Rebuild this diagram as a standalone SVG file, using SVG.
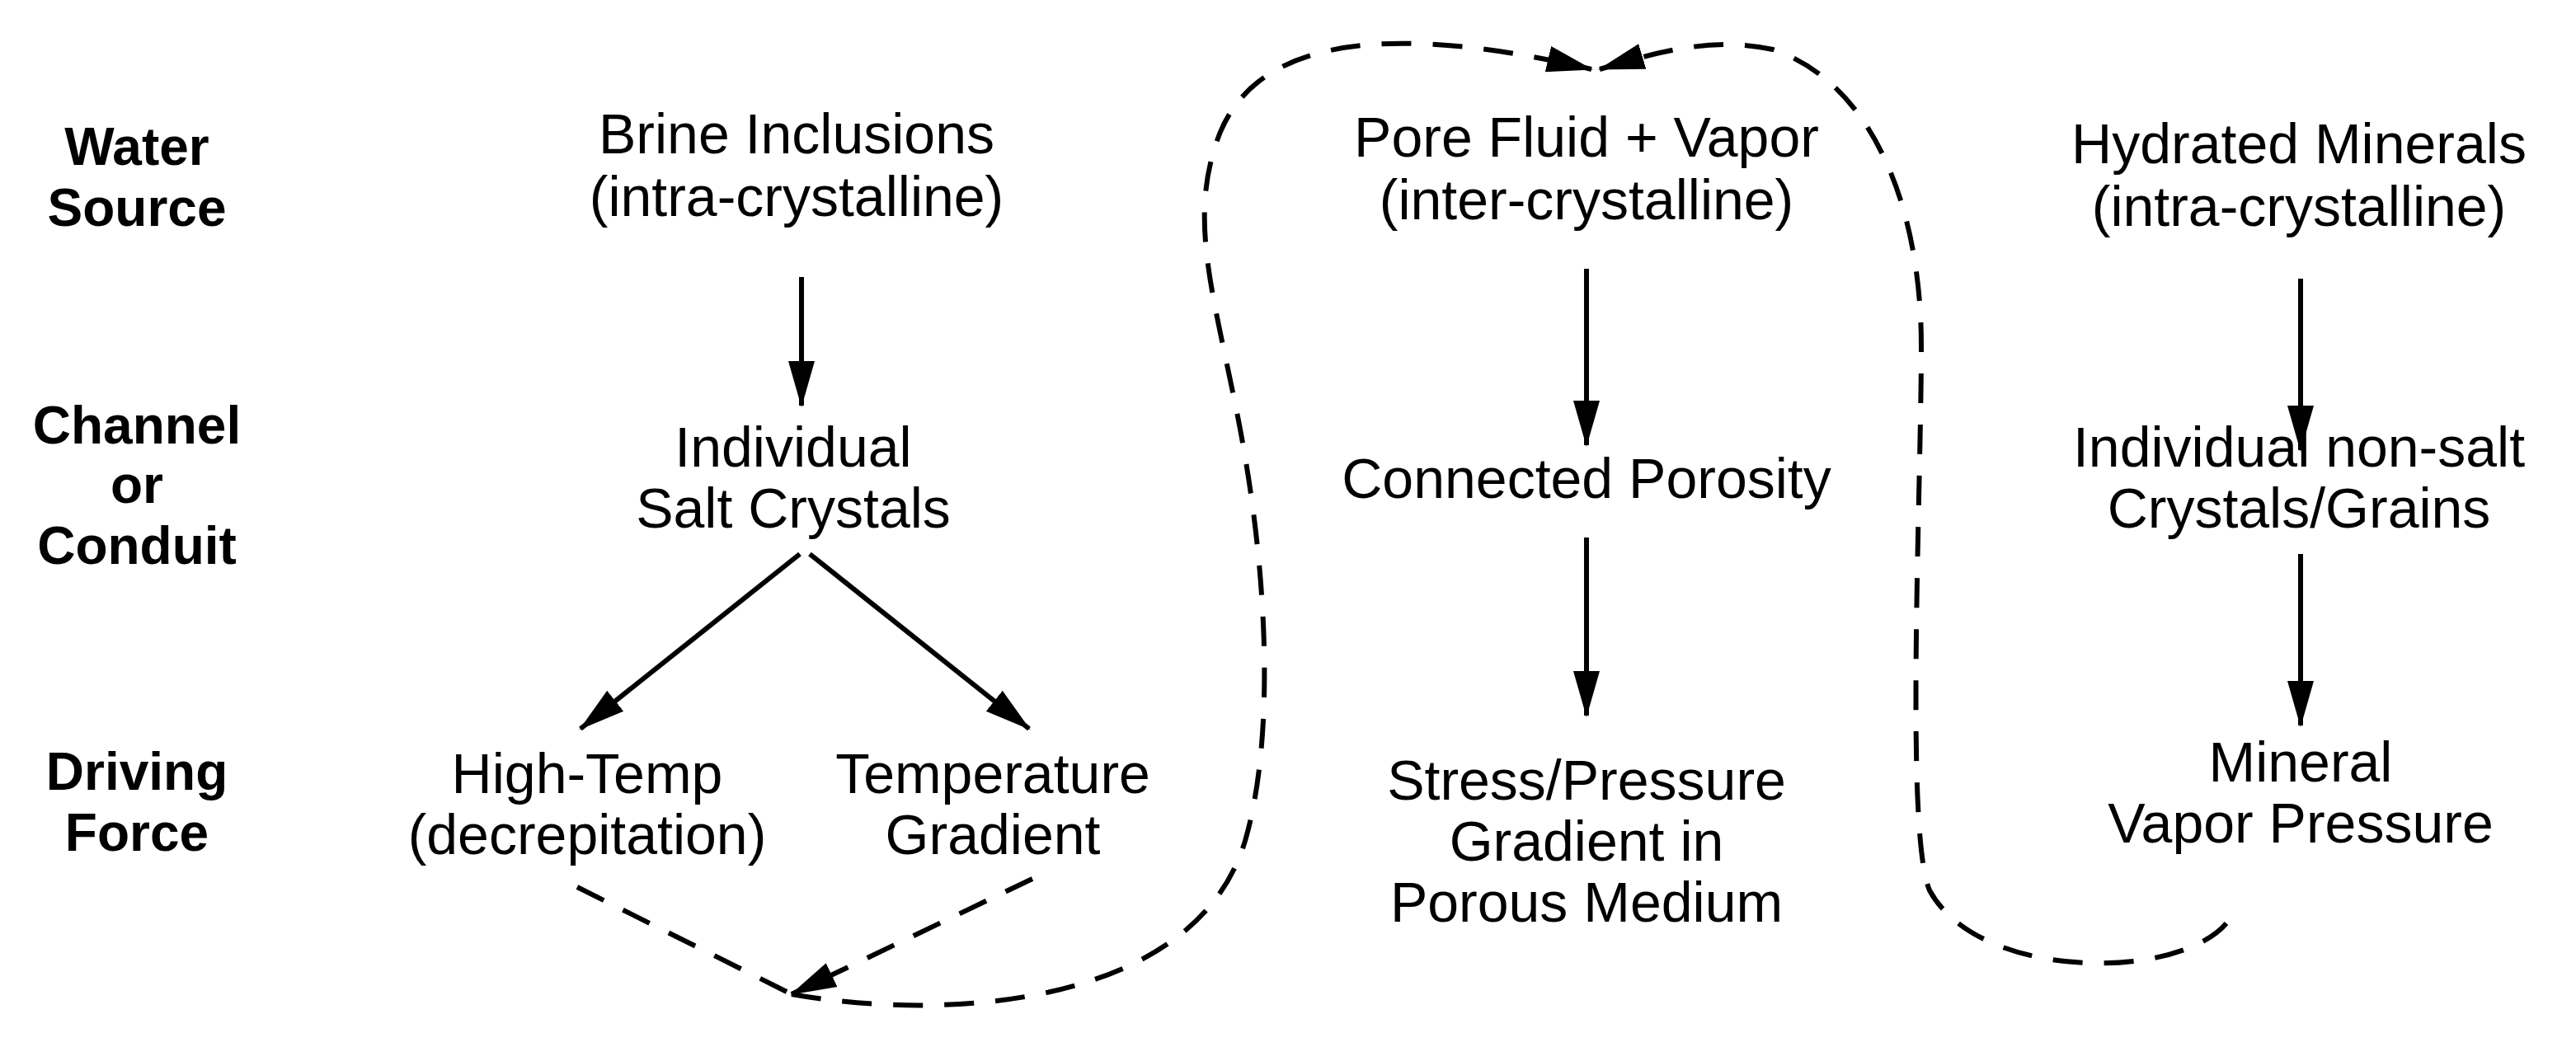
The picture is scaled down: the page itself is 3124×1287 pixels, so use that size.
<svg xmlns="http://www.w3.org/2000/svg" width="3124" height="1287" viewBox="0 0 3124 1287">
<style>
text{font-family:"Liberation Sans",Arial,sans-serif;text-anchor:middle;fill:#000}
.n{font-size:68px}
.b{font-size:64px;font-weight:bold}
.a{stroke:#000;stroke-width:6;fill:none;marker-end:url(#ah)}
.d{stroke:#000;stroke-width:6;fill:none;stroke-dasharray:36 26}
</style>
<defs>
<marker id="ah" markerUnits="userSpaceOnUse" markerWidth="60" markerHeight="60" viewBox="0 0 60 60" refX="54" refY="30" orient="auto">
<path d="M0,14 L56,30 L0,46 Z" fill="#000"/>
</marker>
</defs>
<rect width="3124" height="1287" fill="#fff"/>
<g id="labels">
<text class="b" x="166" y="200">Water</text><text class="b" x="166" y="274">Source</text>
<text class="b" x="166" y="538">Channel</text><text class="b" x="166" y="610">or</text><text class="b" x="166" y="684">Conduit</text>
<text class="b" x="166" y="958">Driving</text><text class="b" x="166" y="1032">Force</text>
</g>
<g id="brine"><text class="n" x="966" y="186">Brine Inclusions</text><text class="n" x="966" y="262">(intra-crystalline)</text></g>
<g id="salt"><text class="n" x="962" y="566">Individual</text><text class="n" x="962" y="640">Salt Crystals</text></g>
<g id="hightemp"><text class="n" x="712" y="962">High-Temp</text><text class="n" x="712" y="1036">(decrepitation)</text></g>
<g id="tempgrad"><text class="n" x="1204" y="962">Temperature</text><text class="n" x="1204" y="1036">Gradient</text></g>
<g id="pore"><text class="n" x="1924" y="190">Pore Fluid + Vapor</text><text class="n" x="1924" y="266">(inter-crystalline)</text></g>
<g id="porosity"><text class="n" x="1924" y="604">Connected Porosity</text></g>
<g id="stress"><text class="n" x="1924" y="970">Stress/Pressure</text><text class="n" x="1924" y="1044">Gradient in</text><text class="n" x="1924" y="1118">Porous Medium</text></g>
<g id="hydrated"><text class="n" x="2788" y="198">Hydrated Minerals</text><text class="n" x="2788" y="274">(intra-crystalline)</text></g>
<g id="nonsalt"><text class="n" x="2788" y="566">Individual non-salt</text><text class="n" x="2788" y="640">Crystals/Grains</text></g>
<g id="mineral"><text class="n" x="2790" y="948">Mineral</text><text class="n" x="2790" y="1022">Vapor Pressure</text></g>
<g id="connectors">
<line class="a" x1="972" y1="336" x2="972" y2="492"/>
<line class="a" x1="970" y1="672" x2="704" y2="884"/>
<line class="a" x1="982" y1="672" x2="1248" y2="884"/>
<line class="a" x1="1924" y1="326" x2="1924" y2="540"/>
<line class="a" x1="1924" y1="652" x2="1924" y2="868"/>
<line class="a" x1="2790" y1="338" x2="2790" y2="546"/>
<line class="a" x1="2790" y1="672" x2="2790" y2="880"/>
<path class="d" d="M700,1076 L960,1206"/>
<path class="d" d="M1252,1066 L960,1206" marker-end="url(#ah)"/>
<path class="d" d="M960,1206 C1150,1240 1450,1220 1510,1020 C1545,900 1540,700 1500,500 C1470,350 1440,260 1480,160 C1530,40 1700,30 1930,84" marker-end="url(#ah)"/>
<path class="d" d="M2700,1120 C2640,1190 2400,1190 2340,1080 C2310,1010 2330,600 2330,420 C2330,250 2270,100 2150,60 C2080,45 2020,60 1940,84" marker-end="url(#ah)"/>
</g>
</svg>
